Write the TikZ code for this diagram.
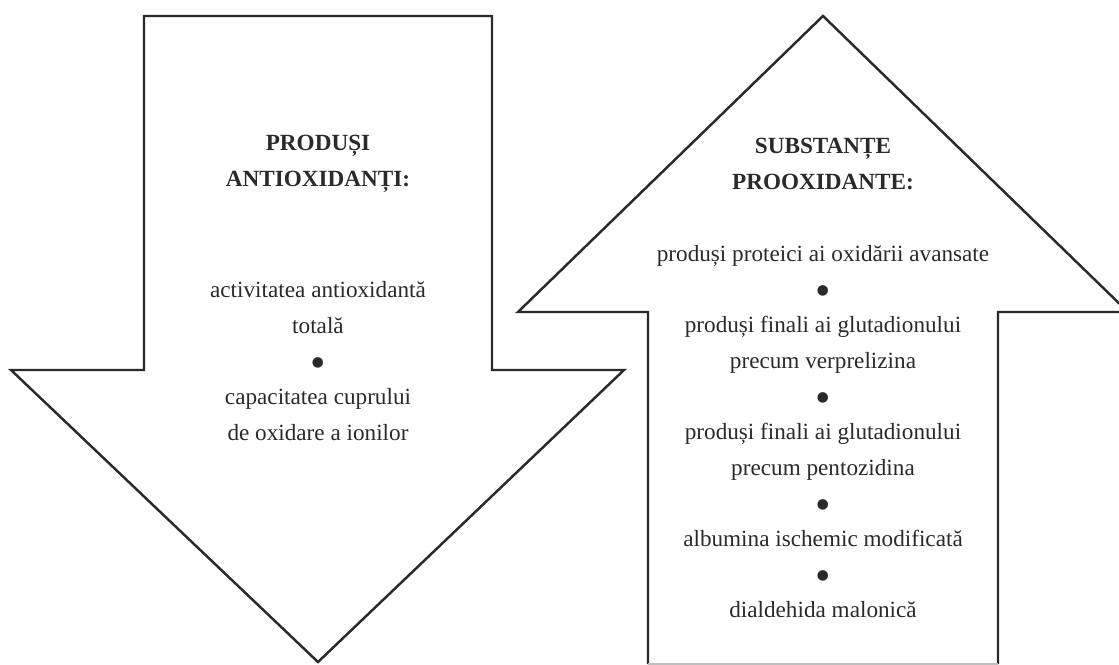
\documentclass[tikz,border=0pt]{standalone}
\usepackage{fontspec}
\setmainfont{Liberation Serif}
\usepackage{tikz}
\usetikzlibrary{positioning}
\definecolor{inkgray}{HTML}{2A2A2A}
\newcommand{\bigdot}{\raisebox{-5pt}{\scalebox{1.9}{\textbullet}}}
\tikzstyle{outline} = [draw=inkgray, line width=1.4pt, line join=miter]
\tikzstyle{heading} = [font=\fontsize{13.2}{20.3}\selectfont\bfseries, text=inkgray, align=center, inner sep=0pt]
\tikzstyle{items} = [font=\fontsize{13.2}{20.3}\selectfont, text=inkgray, align=center, inner sep=0pt]

\begin{document}
\begin{tikzpicture}[x=0.02cm, y=-0.02cm]
\useasboundingbox (0,0) rectangle (1119,665);

% arrow pointing down
\draw [outline] (144,16) -- (492,16) -- (492,370) -- (624,370) -- (318,662) -- (11,370) -- (144,370) -- cycle;
% arrow pointing up
\draw [outline] (648,664) -- (648,312) -- (518,312) -- (823,16) -- (1128,312) -- (998,312) -- (998,664);
\draw [draw=lightgray, line width=0.8pt] (648,664) -- (998,664);

\node (anti) [heading] at (318,164) {PRODUȘI\\ANTIOXIDANȚI:};
\node (antilist) [items] at (318,361) {activitatea antioxidantă\\totală\\\bigdot\\capacitatea cuprului\\de oxidare a ionilor};

\node (pro) [heading] at (823,164) {SUBSTANȚE\\PROOXIDANTE:};
\node (prolist) [items] at (823,431.5) {produși proteici ai oxidării avansate\\\bigdot\\produși finali ai glutadionului\\precum verprelizina\\\bigdot\\produși finali ai glutadionului\\precum pentozidina\\\bigdot\\albumina ischemic modificată\\\bigdot\\dialdehida malonică};

\end{tikzpicture}
\end{document}
